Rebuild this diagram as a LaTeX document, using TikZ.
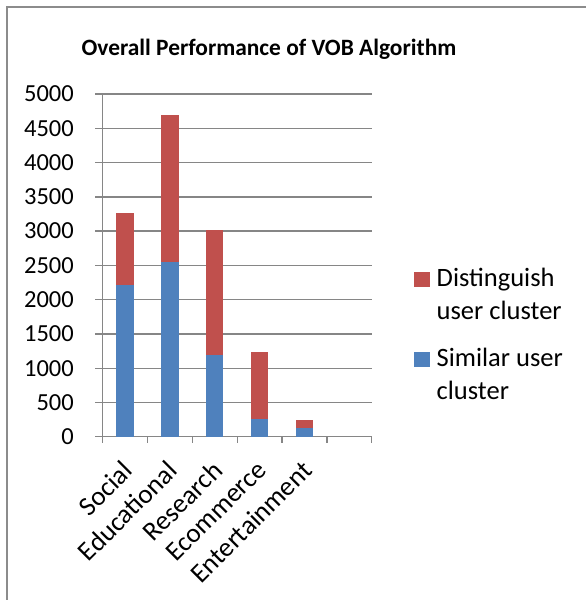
\documentclass[tikz,border=0pt]{standalone}
\usepackage{fontspec}
\setmainfont{Carlito}
\definecolor{barblue}{HTML}{4F81BD}
\definecolor{barred}{HTML}{C0504D}
\definecolor{gridgray}{HTML}{868686}
\definecolor{framegray}{HTML}{8C8C8C}
\begin{document}
\begin{tikzpicture}[x=1pt,y=-1pt,
  lbl/.style={inner sep=0pt,font=\fontsize{24.5}{29}\selectfont},
  catlbl/.style={inner sep=0pt,font=\fontsize{27}{32}\selectfont,rotate=45,anchor=north east},
  leglbl/.style={inner sep=0pt,font=\fontsize{26.5}{33}\selectfont,anchor=base west,align=left},
  gridline/.style={draw=gridgray,line width=1.3pt},
  axisline/.style={draw=gridgray,line width=1.3pt}]
\useasboundingbox (0,0) rectangle (586,600);
% chart frame (only top and left edges fall inside the page)
\draw[framegray,line width=1.5pt] (7,600) -- (7,7) -- (586,7);
% title
\node[inner sep=0pt,font=\fontsize{23.4}{28}\selectfont\bfseries,anchor=base] (title) at (269,55) {Overall Performance of VOB Algorithm};
% geometry: y = 436.7 - v*0.068534
\def\yzero{436.7}
\def\yscale{0.068534}
\def\xzero{102.7}
\def\cw{44.833}
% horizontal grid lines and value labels
\foreach \v [count=\k] in {500,1000,...,5000}{
  \pgfmathsetmacro\yy{\yzero-\v*\yscale}
  \draw[gridline] (\xzero,\yy) -- (371.7,\yy);
  \draw[axisline] (95,\yy) -- (\xzero,\yy);
  \node[lbl,anchor=east] (ylab\k) at (74,\yy) {\v};
}
\node[lbl,anchor=east] (ylab0) at (74,\yzero) {0};
% axes
\draw[axisline] (\xzero,94) -- (\xzero,\yzero);
\draw[axisline] (95,\yzero) -- (371.7,\yzero);
\foreach \i in {0,...,6}{
  \pgfmathsetmacro\xx{\xzero+\i*\cw}
  \draw[axisline] (\xx,\yzero) -- (\xx,443.3);
}
% stacked bars
\foreach \name/\lo/\hi [count=\i from 0] in
  {Social/2210/1060,Educational/2545/2155,Research/1190/1830,Ecommerce/255/975,Entertainment/120/130}{
  \pgfmathsetmacro\xx{\xzero+(\i+0.5)*\cw}
  \pgfmathsetmacro\ya{\yzero-\lo*\yscale}
  \pgfmathsetmacro\yb{\yzero-(\lo+\hi)*\yscale}
  \fill[barblue] (\xx-8.65,\yzero) rectangle (\xx+8.65,\ya);
  \fill[barred] (\xx-8.65,\ya) rectangle (\xx+8.65,\yb);
  \node[catlbl] (cat\i) at (\xx-4,459) {\name};
}
% legend
\fill[barred] (414.3,271.7) rectangle (430,286.7);
\node[leglbl] (legred) at (436.5,319.5) {Distinguish\\user cluster};
\fill[barblue] (414.3,352) rectangle (430,367);
\node[leglbl] (legblue) at (436.5,399.5) {Similar user\\cluster};
\end{tikzpicture}
\end{document}
